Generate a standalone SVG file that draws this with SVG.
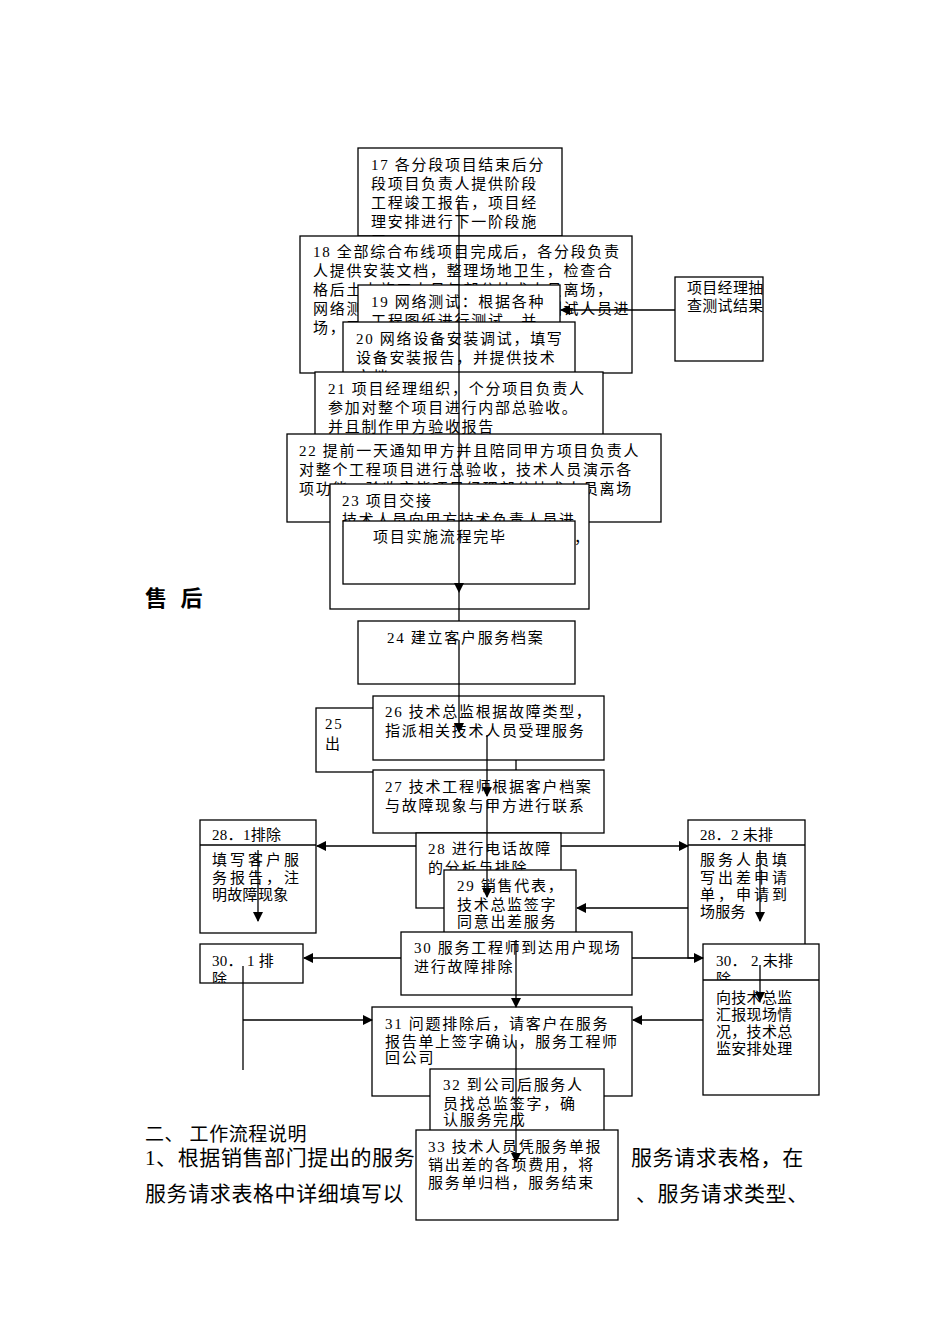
<svg xmlns="http://www.w3.org/2000/svg" width="950" height="1344" viewBox="0 0 950 1344">
<style>
rect.b{fill:#fff;stroke:#000;stroke-width:1.3}
text{font-family:"Liberation Serif","Noto Sans CJK SC",serif;font-size:15px;fill:#000;letter-spacing:1.7px}
.n text{letter-spacing:0.3px}
.h{font-size:22px;font-weight:bold;letter-spacing:4px}
.p{font-size:21px;letter-spacing:0.6px}
line{stroke:#000;stroke-width:1.3}
.a{marker-end:url(#ar)}
</style>
<defs>
<marker id="ar" markerWidth="10" markerHeight="10" refX="9" refY="5" orient="auto" markerUnits="userSpaceOnUse"><path d="M0,0 L10,5 L0,10 z" fill="#000"/></marker>
<clipPath id="c17"><rect x="358" y="148" width="204" height="88"/></clipPath>
<clipPath id="c18"><rect x="300" y="236" width="332" height="137"/></clipPath>
<clipPath id="c19"><rect x="358" y="285" width="202" height="55"/></clipPath>
<clipPath id="c20"><rect x="343" y="322" width="232" height="51"/></clipPath>
<clipPath id="c23"><rect x="330" y="484" width="259" height="125"/></clipPath>
<clipPath id="c22"><rect x="287" y="434" width="374" height="88"/></clipPath>
<clipPath id="c28"><rect x="416" y="833" width="145" height="75"/></clipPath>
<clipPath id="c301"><rect x="200" y="944" width="103" height="39"/></clipPath>
<clipPath id="c302"><rect x="703" y="944" width="116" height="36"/></clipPath>
<clipPath id="c32"><rect x="430" y="1069" width="174" height="61"/></clipPath>
</defs>
<text class="h" x="145" y="606">售 后</text>
<text class="p" x="145" y="1141" style="font-size:19px">二、  工作流程说明</text>
<text class="p" x="145" y="1165">1、根据销售部门提出的服务</text>
<text class="p" x="631" y="1165">服务请求表格，在</text>
<text class="p" x="145" y="1201">服务请求表格中详细填写以</text>
<text class="p" x="636" y="1201">、服务请求类型、</text>

<g id="n17"><rect class="b" x="358" y="148" width="204" height="88"/><g clip-path="url(#c17)"><text x="371" y="170">17 各分段项目结束后分</text><text x="371" y="189">段项目负责人提供阶段</text><text x="371" y="208">工程竣工报告，项目经</text><text x="371" y="227">理安排进行下一阶段施</text><text x="371" y="246">工</text></g></g>
<g id="n18"><rect class="b" x="300" y="236" width="332" height="137"/><g clip-path="url(#c18)"><text x="313" y="257">18 全部综合布线项目完成后，各分段负责</text><text x="313" y="276">人提供安装文档，整理场地卫生，检查合</text><text x="313" y="295">格后土木施工人员与部分技术人员离场，</text><text x="313" y="314">网络测试，根据各种工程图纸，测试人员进</text><text x="313" y="333">场，开</text></g></g>
<g id="n19"><rect class="b" x="358" y="285" width="202" height="55"/><g clip-path="url(#c19)"><text x="371" y="307">19 网络测试：根据各种</text><text x="371" y="326">工程图纸进行测试，并</text></g></g>
<g id="n20"><rect class="b" x="343" y="322" width="232" height="51"/><g clip-path="url(#c20)"><text x="356" y="344">20 网络设备安装调试，填写</text><text x="356" y="363">设备安装报告，并提供技术</text><text x="356" y="382">文档</text></g></g>
<g id="nR" class="n"><rect class="b" x="675" y="277" width="88" height="84"/><text x="687" y="293">项目经理抽</text><text x="687" y="311">查测试结果</text></g>
<g id="n21"><rect class="b" x="315" y="372" width="288" height="64"/><text x="328" y="394">21 项目经理组织，个分项目负责人</text><text x="328" y="413">参加对整个项目进行内部总验收。</text><text x="328" y="432">并且制作甲方验收报告</text></g>
<g id="n22"><rect class="b" x="287" y="434" width="374" height="88"/><g clip-path="url(#c22)"><text x="299" y="456">22 提前一天通知甲方并且陪同甲方项目负责人</text><text x="299" y="475">对整个工程项目进行总验收，技术人员演示各</text><text x="299" y="494">项功能，验收完毕项目经理部分技术人员离场</text></g></g>
<g id="n23"><rect class="b" x="330" y="484" width="259" height="125"/><g clip-path="url(#c23)"><text x="342" y="506">23 项目交接</text><text x="342" y="525">技术人员向甲方技术负责人员进</text><text x="574" y="543">，</text></g></g>
<g id="n23b"><rect class="b" x="343" y="521" width="232" height="63"/><text x="373" y="542">项目实施流程完毕</text></g>
<g id="n24"><rect class="b" x="358" y="621" width="217" height="63"/><text x="387" y="643">24 建立客户服务档案</text></g>
<g id="n25"><rect class="b" x="316" y="708" width="200" height="64"/><text x="325" y="729">25</text><text x="325" y="749">出</text></g>
<g id="n26"><rect class="b" x="373" y="696" width="231" height="64"/><text x="385" y="717">26 技术总监根据故障类型，</text><text x="385" y="736">指派相关技术人员受理服务</text></g>
<g id="n27"><rect class="b" x="373" y="770" width="231" height="63"/><text x="385" y="792">27 技术工程师根据客户档案</text><text x="385" y="811">与故障现象与甲方进行联系</text></g>
<g id="n281" class="n"><rect class="b" x="200" y="820" width="116" height="113"/><line x1="200" y1="845" x2="316" y2="845"/><text x="212" y="840">28．1排除</text><text x="212" y="865" style="letter-spacing:3px">填写客户服</text><text x="212" y="883" style="letter-spacing:3px">务报告，注</text><text x="212" y="900">明故障现象</text></g>
<g id="n282" class="n"><rect class="b" x="688" y="820" width="117" height="138"/><line x1="688" y1="845" x2="805" y2="845"/><text x="700" y="840">28．2 未排</text><text x="700" y="865" style="letter-spacing:3px">服务人员填</text><text x="700" y="883" style="letter-spacing:3px">写出差申请</text><text x="700" y="900" style="letter-spacing:3px">单，申请到</text><text x="700" y="917">场服务</text></g>
<g id="n28"><rect class="b" x="416" y="833" width="145" height="75"/><g clip-path="url(#c28)"><text x="428" y="854">28 进行电话故障</text><text x="428" y="873">的分析与排除</text></g></g>
<g id="n29"><rect class="b" x="444" y="870" width="132" height="65"/><text x="457" y="891">29 销售代表，</text><text x="457" y="910">技术总监签字</text><text x="457" y="927">同意出差服务</text></g>
<g id="n30"><rect class="b" x="401" y="932" width="231" height="63"/><text x="414" y="953">30 服务工程师到达用户现场</text><text x="414" y="972">进行故障排除</text></g>
<g id="n301" class="n"><rect class="b" x="200" y="944" width="103" height="39"/><g clip-path="url(#c301)"><text x="212" y="966">30． 1 排</text><text x="212" y="984">除</text></g></g>
<g id="n302" class="n"><rect class="b" x="703" y="944" width="116" height="151"/><line x1="703" y1="980" x2="819" y2="980"/><g clip-path="url(#c302)"><text x="716" y="966">30． 2 未排</text><text x="716" y="984">除</text></g><text x="716" y="1003">向技术总监</text><text x="716" y="1020">汇报现场情</text><text x="716" y="1037">况，技术总</text><text x="716" y="1054">监安排处理</text></g>
<g id="n31"><rect class="b" x="372" y="1007" width="260" height="89"/><text x="385" y="1029">31 问题排除后，请客户在服务</text><text x="385" y="1047">报告单上签字确认，服务工程师</text><text x="385" y="1063">回公司</text></g>
<g id="n32"><rect class="b" x="430" y="1069" width="174" height="91"/><g clip-path="url(#c32)"><text x="443" y="1090">32 到公司后服务人</text><text x="443" y="1109">员找总监签字，确</text><text x="443" y="1125">认服务完成</text></g></g>
<g id="n33"><rect class="b" x="416" y="1130" width="202" height="90"/><text x="428" y="1152">33 技术人员凭服务单报</text><text x="428" y="1170">销出差的各项费用，将</text><text x="428" y="1188">服务单归档，服务结束</text></g>

<g id="connectors">
<line class="a" x1="459" y1="200" x2="459" y2="592"/>
<line x1="459" y1="592" x2="459" y2="621"/>
<line class="a" x1="675" y1="310" x2="561" y2="310"/>
<line class="a" x1="459" y1="640" x2="459" y2="732"/>
<line class="a" x1="487" y1="735" x2="487" y2="796"/>
<line class="a" x1="487" y1="800" x2="487" y2="897"/>
<line class="a" x1="416" y1="846" x2="317" y2="846"/>
<line class="a" x1="561" y1="846" x2="688" y2="846"/>
<line class="a" x1="258" y1="850" x2="258" y2="921"/>
<line class="a" x1="760" y1="850" x2="760" y2="921"/>
<line class="a" x1="688" y1="908" x2="577" y2="908"/>
<line class="a" x1="401" y1="958" x2="304" y2="958"/>
<line class="a" x1="632" y1="958" x2="703" y2="958"/>
<line x1="243" y1="966" x2="243" y2="1070"/>
<line class="a" x1="243" y1="1020" x2="372" y2="1020"/>
<line class="a" x1="760" y1="965" x2="760" y2="1001"/>
<line class="a" x1="703" y1="1020" x2="633" y2="1020"/>
<line class="a" x1="516" y1="940" x2="516" y2="1007"/>
<line class="a" x1="516" y1="1040" x2="516" y2="1162"/>
</g>
</svg>
